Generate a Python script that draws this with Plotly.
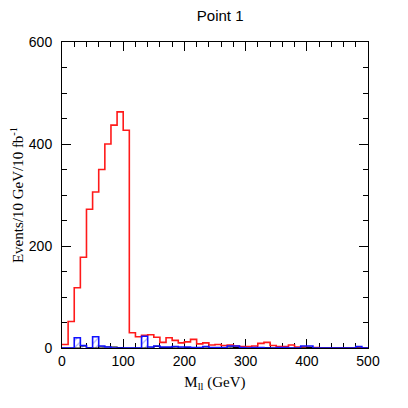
import plotly.graph_objects as go

# bin edges 0..500 GeV, 10 GeV bins
bin_edges = list(range(0, 510, 10))

red_values = [7, 52, 118, 178, 272, 306, 350, 400, 437, 463,
              427, 30, 22, 25, 26, 21, 11, 20, 15, 10,
              12, 17, 8, 10, 6, 7, 5, 6, 4, 3,
              3, 4, 9, 11, 5, 3, 3, 6, 2, 2,
              1, 1, 0, 0, 0, 0, 0, 0, 0, 0]

blue_values = [0, 0, 20, 5, 0, 22, 4, 2, 0, 0,
               0, 0, 0, 23, 2, 4, 2, 2, 3, 2,
               2, 1, 1, 3, 1, 1, 1, 4, 4, 1,
               0, 1, 1, 0, 0, 1, 1, 0, 0, 4,
               4, 0, 0, 0, 0, 0, 0, 0, 3, 0]

black_values = [0, 0, 0, 4, 1, 0, 2, 2, 2, 1,
                0, 0, 0, 0, 0, 3, 1, 1, 2, 0,
                1, 0, 0, 2, 0, 0, 0, 2, 1, 0,
                0, 0, 0, 1, 0, 0, 0, 0, 0, 0,
                1, 0, 0, 0, 0, 0, 0, 0, 0, 0]

x_ticks = [0, 100, 200, 300, 400, 500]
y_ticks = [0, 200, 400, 600]

centers = [(a + b) / 2 for a, b in zip(bin_edges[:-1], bin_edges[1:])]


def step(vals):
    return bin_edges, list(vals) + [vals[-1]]


fig = go.Figure()

xr, yr = step(red_values)
fig.add_trace(go.Scatter(x=xr, y=yr, mode="lines", line_shape="hv",
                         line=dict(color="#ff1a1a", width=1.6), cliponaxis=False,
                         showlegend=False))

fig.add_trace(go.Bar(x=centers, y=blue_values, width=10,
                     marker=dict(color="rgba(0,0,0,0)", line=dict(width=0),
                                 pattern=dict(shape="/", fgcolor="#5a66f0",
                                              bgcolor="rgba(255,255,255,0)",
                                              size=5, solidity=0.25)),
                     showlegend=False))

xk, yk = step(black_values)
fig.add_trace(go.Scatter(x=xk, y=yk, mode="lines", line_shape="hv",
                         line=dict(color="black", width=1.2), cliponaxis=False,
                         showlegend=False))

xb, yb = step(blue_values)
fig.add_trace(go.Scatter(x=xb, y=yb, mode="lines", line_shape="hv",
                         line=dict(color="#1010ff", width=1.6), cliponaxis=False,
                         showlegend=False))

axis_common = dict(showgrid=False, zeroline=False, showline=True, linecolor="black",
                   linewidth=1, mirror="ticks", ticks="inside", ticklen=9,
                   tickcolor="black", tickwidth=1, automargin=False,
                   tickfont=dict(family="Liberation Sans, Arial", size=14, color="black"))

fig.update_layout(
    width=408, height=408,
    margin=dict(l=54, r=48, t=34, b=68),
    plot_bgcolor="white", paper_bgcolor="white",
    bargap=0,
    title=dict(text="Point 1", x=0.52, xanchor="center", y=0.981, yanchor="middle",
               font=dict(family="Liberation Sans, Arial", size=15, color="black")),
    xaxis=dict(range=[0, 500], tickvals=x_ticks, layer="below traces",
               minor=dict(dtick=20, ticks="inside", ticklen=5, tickcolor="black"),
               title=dict(text="M<sub>ll</sub> (GeV)", standoff=8,
                          font=dict(family="Liberation Serif, Times New Roman", size=15,
                                    color="black")),
               **axis_common),
    yaxis=dict(range=[0, 600], tickvals=y_ticks, ticklabelstandoff=6,
               minor=dict(dtick=50, ticks="inside", ticklen=5, tickcolor="black"),
               title=dict(text="Events/10 GeV/10 fb<sup>-1</sup>", standoff=2,
                          font=dict(family="Liberation Serif, Times New Roman", size=15,
                                    color="black")),
               **axis_common),
)

fig.write_html("out.html")
